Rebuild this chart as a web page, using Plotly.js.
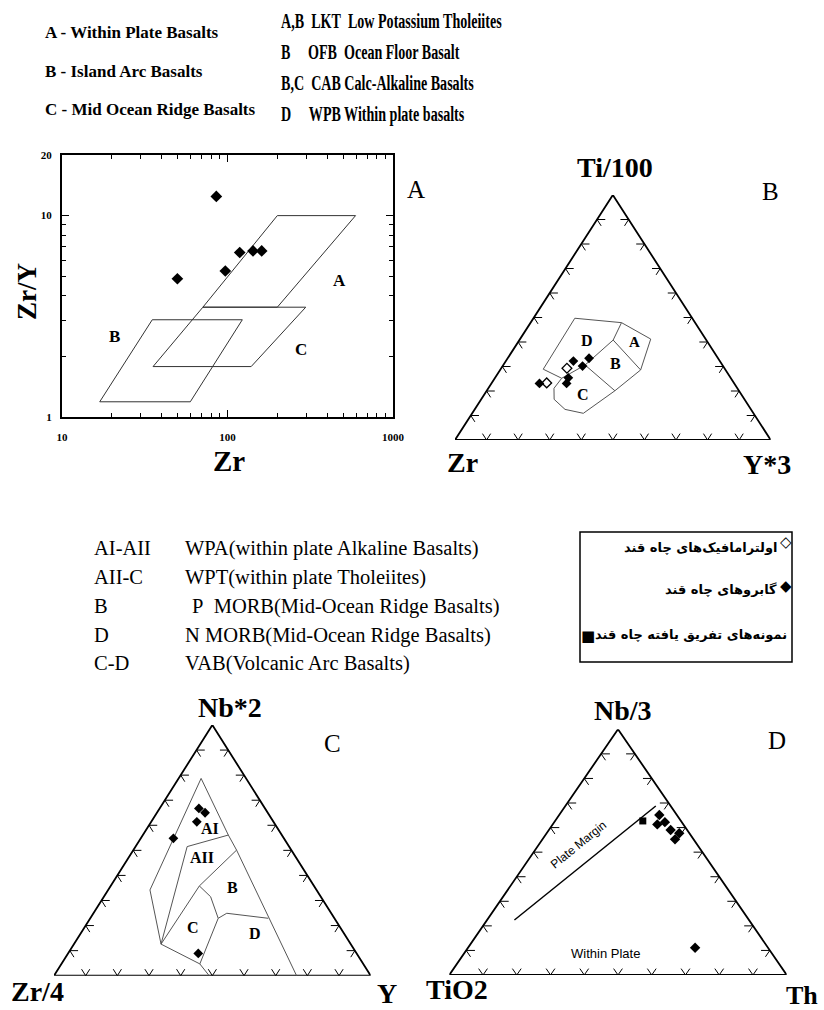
<!DOCTYPE html>
<html><head><meta charset="utf-8">
<script src="https://cdn.plot.ly/plotly-3.0.1.min.js"></script>
<style>body{margin:0;background:#fff}</style>
</head><body><div id="chart" style="width:824px;height:1010px"></div>
<script>
// ---------- Panel A : Zr/Y vs Zr (log-log) ----------
const aSampleZr  = [85.6, 49.8, 97.0, 118.5, 142.6, 160.9];
const aSampleZrY = [12.45, 4.86, 5.31, 6.56, 6.68, 6.68];
const aFieldA_Zr  = [71, 200, 594, 200, 71];
const aFieldA_ZrY = [3.51, 10, 10, 3.51, 3.51];
const aFieldB_Zr  = [16.9, 35.1, 122.9, 59.6, 16.9];
const aFieldB_ZrY = [1.19, 3.04, 3.04, 1.19, 1.19];
const aFieldC_Zr  = [35.5, 71, 297, 139, 35.5];
const aFieldC_ZrY = [1.78, 3.51, 3.51, 1.78, 1.78];
const aXTicks = [10, 100, 1000];
const aXMinor = [20,30,40,50,60,70,80,90,200,300,400,500,600,700,800,900];
const aYTicks = [1, 10, 20];
const aYMinor = [2,3,4,5,6,7,8,9];

// ---------- Panel B : Ti/100 - Zr - Y*3  ([top, left, right]) ----------
const bOutline = [[0.497,0.372,0.131],[0.479,0.233,0.288],[0.412,0.174,0.414],[0.286,0.269,0.445],
  [0.201,0.393,0.406],[0.109,0.539,0.352],[0.125,0.589,0.286],[0.166,0.603,0.231],[0.211,0.581,0.208],
  [0.252,0.536,0.212],[0.289,0.576,0.135],[0.497,0.372,0.131]];
const bLine1 = [[0.479,0.233,0.288],[0.408,0.295,0.297],[0.286,0.269,0.445]];
const bLine2 = [[0.408,0.295,0.297],[0.306,0.435,0.259],[0.201,0.393,0.406]];
const bLine3 = [[0.306,0.435,0.259],[0.252,0.536,0.212]];
const bGabbro = [[0.322,0.464,0.214],[0.334,0.409,0.258],[0.302,0.445,0.253],[0.254,0.514,0.232],[0.231,0.531,0.238],[0.231,0.617,0.152]];
const bUltramafic = [[0.293,0.499,0.208],[0.233,0.593,0.174]];

// ---------- Panel C : Nb*2 - Zr/4 - Y ----------
const cOutline = [[0,0.51,0.49],[0.047,0.516,0.437],[0.126,0.599,0.275],[0.342,0.526,0.132],[0.787,0.142,0.071],
  [0.561,0.169,0.270],[0.501,0.173,0.326],[0,0.234,0.766]];
const cLineAI  = [[0.561,0.169,0.270],[0.515,0.322,0.163],[0.126,0.599,0.275]];
const cLineAII = [[0.501,0.173,0.326],[0.358,0.362,0.280],[0.126,0.599,0.275]];
const cLineC   = [[0.358,0.362,0.280],[0.315,0.348,0.337],[0.229,0.367,0.404],[0.047,0.516,0.437]];
const cLineD   = [[0.229,0.367,0.404],[0.249,0.330,0.421],[0.229,0.209,0.562]];
const cGabbro = [[0.667,0.209,0.124],[0.650,0.198,0.152],[0.614,0.242,0.144],[0.548,0.349,0.103],[0.089,0.500,0.411]];

// ---------- Panel D : Nb/3 - TiO2 - Th ----------
const dMarginLine = [[0.224,0.695,0.081],[0.688,0.044,0.268]];
const dGabbro = [[0.651,0.052,0.297],[0.613,0.077,0.310],[0.622,0.050,0.328],[0.590,0.049,0.361],[0.577,0.030,0.393],[0.552,0.055,0.393],[0.111,0.216,0.673]];
const dDiff = [[0.627,0.113,0.260]];

const tickFractions = [0.1,0.2,0.3,0.4,0.5,0.6,0.7,0.8,0.9];

// ---------- helpers ----------
const W = 824, H = 1010;
const PX = x => x / W, PY = y => 1 - y / H;
const SERIF = "Liberation Serif, Times New Roman, serif";
function tern(t){ const s=t[0]+t[1]+t[2]; return [(t[2]+t[0]/2)/s, t[0]/s]; }
function path(list){
  const x=[], y=[];
  list.forEach((arr,i)=>{ if(i){x.push(null);y.push(null);} arr.forEach(v=>{const p=tern(v);x.push(p[0]);y.push(p[1]);}); });
  return {x,y};
}
function frame(xa, ya){
  const p=path([[[1,0,0],[0,1,0],[0,0,1],[1,0,0]]]);
  return {type:'scatter',mode:'lines',x:p.x,y:p.y,xaxis:xa,yaxis:ya,line:{color:'#000',width:1.8},hoverinfo:'skip',showlegend:false};
}
function ticks(xa, ya){
  const V=[[0.5,1],[0,0],[1,0]];
  const edges=[[1,2,0],[1,0,2],[0,2,1]];
  const d=0.026, x=[], y=[];
  edges.forEach(e=>{
    const A=V[e[0]],B=V[e[1]],C=V[e[2]];
    tickFractions.forEach(f=>{
      const px=A[0]+f*(B[0]-A[0]), py=A[1]+f*(B[1]-A[1]);
      x.push(px+d*(C[0]-A[0]),px,px+d*(C[0]-B[0]),null);
      y.push(py+d*(C[1]-A[1]),py,py+d*(C[1]-B[1]),null);
    });
  });
  return {type:'scatter',mode:'lines',x,y,xaxis:xa,yaxis:ya,line:{color:'#000',width:1},hoverinfo:'skip',showlegend:false};
}
function lines(list, xa, ya, color, w){
  const p=path(list);
  return {type:'scatter',mode:'lines',x:p.x,y:p.y,xaxis:xa,yaxis:ya,line:{color:color||'#555',width:w||1},hoverinfo:'skip',showlegend:false};
}
function pts(arr, xa, ya, symbol, size, name){
  const p=path([arr]);
  return {type:'scatter',mode:'markers',name,x:p.x,y:p.y,xaxis:xa,yaxis:ya,cliponaxis:false,
    marker:{symbol,size,color:'#000',line:{color:'#000',width:symbol.indexOf('open')>=0?1.3:0}},showlegend:false};
}

const traces = [];
[[aFieldA_Zr,aFieldA_ZrY],[aFieldB_Zr,aFieldB_ZrY],[aFieldC_Zr,aFieldC_ZrY]].forEach(f=>{
  traces.push({type:'scatter',mode:'lines',x:f[0],y:f[1],xaxis:'x',yaxis:'y',line:{color:'#333',width:1},hoverinfo:'skip',showlegend:false});
});
traces.push({type:'scatter',mode:'markers',x:aSampleZr,y:aSampleZrY,xaxis:'x',yaxis:'y',cliponaxis:false,
  marker:{symbol:'diamond',size:9,color:'#000'},showlegend:false});
traces.push(frame('x2','y2'), ticks('x2','y2'), lines([bOutline,bLine1,bLine2,bLine3],'x2','y2'));
traces.push(pts(bGabbro,'x2','y2','diamond',7.5,'gabbro'), pts(bUltramafic,'x2','y2','diamond-open',7.5,'ultramafic'));
traces.push(frame('x3','y3'), ticks('x3','y3'), lines([cOutline,cLineAI,cLineAII,cLineC,cLineD],'x3','y3'));
traces.push(pts(cGabbro,'x3','y3','diamond',7.5,'gabbro'));
traces.push(frame('x4','y4'), ticks('x4','y4'), lines([dMarginLine],'x4','y4','#000',1.5));
traces.push(pts(dGabbro,'x4','y4','diamond',8,'gabbro'), pts(dDiff,'x4','y4','square',7,'diff'));

const hid = {visible:false, range:[0,1], fixedrange:true};
const layout = {
  width:W, height:H, margin:{l:0,r:0,t:0,b:0}, paper_bgcolor:'#fff', plot_bgcolor:'rgba(0,0,0,0)', showlegend:false,
  xaxis:{domain:[PX(62),PX(393)], anchor:'y', type:'log', range:[1,3], tickmode:'array', tickvals:aXTicks, ticktext:aXTicks.map(String),
    ticks:'inside', ticklen:7, tickwidth:1, tickcolor:'#000', showline:true, linewidth:2, linecolor:'#000', mirror:'ticks',
    showgrid:false, zeroline:false, ticklabelstandoff:9, tickfont:{family:SERIF,size:11,weight:'bold',color:'#000'},
    minor:{tickmode:'array', tickvals:aXMinor, ticks:'inside', ticklen:4, tickcolor:'#000', showgrid:false}},
  yaxis:{domain:[PY(417),PY(155)], anchor:'x', type:'log', range:[0,Math.log10(20)], tickmode:'array', tickvals:aYTicks, ticktext:aYTicks.map(String),
    ticks:'inside', ticklen:7, tickwidth:1, tickcolor:'#000', showline:true, linewidth:2, linecolor:'#000', mirror:'ticks',
    showgrid:false, zeroline:false, ticklabelstandoff:6, tickfont:{family:SERIF,size:11,weight:'bold',color:'#000'},
    minor:{tickmode:'array', tickvals:aYMinor, ticks:'inside', ticklen:4, tickcolor:'#000', showgrid:false}},
  xaxis2:Object.assign({domain:[PX(455),PX(770.7)], anchor:'y2'},hid),
  yaxis2:Object.assign({domain:[PY(440),PY(195)], anchor:'x2'},hid),
  xaxis3:Object.assign({domain:[PX(54),PX(370.7)], anchor:'y3'},hid),
  yaxis3:Object.assign({domain:[PY(975.7),PY(725)], anchor:'x3'},hid),
  xaxis4:Object.assign({domain:[PX(449.3),PX(786.7)], anchor:'y4'},hid),
  yaxis4:Object.assign({domain:[PY(975),PY(729.3)], anchor:'x4'},hid),
  annotations:[], shapes:[]
};
function ann(text,x,y,size,opts){
  layout.annotations.push(Object.assign({text, xref:'paper', yref:'paper', x:PX(x), y:PY(y), showarrow:false,
    xanchor:'center', yanchor:'middle', font:{family:SERIF,size,color:'#000'}}, opts||{}));
  return layout.annotations.length-1;
}
function bold(text,x,y,size,extra){ return ann(text,x,y,size,Object.assign({font:{family:SERIF,size,color:'#000',weight:'bold'}},extra||{})); }

// top-left legend
bold('A - Within Plate Basalts',43,32,17,{xanchor:'left'});
bold('B - Island Arc Basalts',43,71,17,{xanchor:'left'});
bold('C - Mid Ocean Ridge Basalts',43,110,17,{xanchor:'left'});
// top-right legend (condensed bold serif; squeezed horizontally after drawing)
const narrowIdx = [];
[['A,B&nbsp;&nbsp;LKT&nbsp;&nbsp;Low Potassium Tholeiites',20],['B&nbsp;&nbsp;&nbsp;&nbsp;&nbsp;OFB&nbsp;&nbsp;Ocean Floor Basalt',51],
 ['B,C&nbsp;&nbsp;CAB Calc-Alkaline Basalts',83],['D&nbsp;&nbsp;&nbsp;&nbsp;&nbsp;WPB Within plate basalts',114]].forEach(r=>{
  narrowIdx.push(bold(r[0],279,r[1],22,{xanchor:'left'}));
});
// panel A labels
bold('Zr',229,461,29); bold('Zr/Y',27,292,27,{textangle:-90});
ann('A',416,190,25);
bold('A',339,280,17); bold('B',114,336,17); bold('C',301,349,17);
// panel B labels
bold('Ti/100',615,167,28); bold('Zr',462,463,28); bold('Y*3',767,465,28);
ann('B',770,192,25);
bold('D',586.7,340,16); bold('A',634,342,15); bold('B',615,363,16); bold('C',583,394,16);
// middle legend
[['AI-AII','WPA(within plate Alkaline Basalts)',548,183],['AII-C','WPT(within plate Tholeiites)',577,183],
 ['B','P&nbsp;&nbsp;MORB(Mid-Ocean Ridge Basalts)',606,190],['D','N MORB(Mid-Ocean Ridge Basalts)',635,183],
 ['C-D','VAB(Volcanic Arc Basalts)',663,183]].forEach(r=>{
  ann(r[0],92,r[2],20.5,{xanchor:'left'}); ann(r[1],r[3],r[2],20.5,{xanchor:'left'});
});
// Persian legend box
layout.shapes.push({type:'rect',xref:'paper',yref:'paper',x0:PX(580),x1:PX(792),y0:PY(662),y1:PY(532),line:{color:'#000',width:1.5}});
const FA = "DejaVu Sans, Noto Sans, sans-serif";
const faFont = {family:FA,size:13,color:'#000',weight:'bold'};
ann('اولترامافیک‌های چاه قند',779,547,13,{xanchor:'right',font:faFont});
ann('◇',786,542,15,{font:{family:FA,size:15,color:'#000'}});
ann('گابروهای چاه قند',779,589,13,{xanchor:'right',font:faFont});
ann('◆',786,586,15,{font:{family:FA,size:15,color:'#000'}});
ann('نمونه‌های تفریق یافته چاه قند',789,634,13,{xanchor:'right',font:faFont});
ann('■',588,636,15,{font:{family:FA,size:15,color:'#000'}});
// panel C labels
bold('Nb*2',230,707,28); bold('Zr/4',37,991,28); bold('Y',387,993,28);
ann('C',332,743,25);
bold('AI',210,828,16); bold('AII',202,857,16); bold('B',232,887,16); bold('C',193,927,16); bold('D',255,933,16);
// panel D labels
bold('Nb/3',623,710,28); bold('TiO2',457,989,28); bold('Th',802,995,26);
ann('D',777,740,25);
const SANS = "Liberation Sans, Arial, sans-serif";
ann('Plate Margin',578,845,12,{textangle:-39,font:{family:SANS,size:12,color:'#000'}});
ann('Within Plate',605,953,13,{font:{family:SANS,size:13,color:'#000'}});

Plotly.newPlot('chart', traces, layout, {staticPlot:true, displayModeBar:false}).then(gd=>{
  // squeeze the condensed legend rows horizontally (reference uses a condensed face)
  const first = gd.querySelector('g.annotation[data-index="'+narrowIdx[0]+'"] text');
  if(!first) return;
  const s = 221 / first.getBBox().width;
  narrowIdx.forEach(i=>{
    const t = gd.querySelector('g.annotation[data-index="'+i+'"] text');
    if(!t) return;
    const bb = t.getBBox(), ex = t.getAttribute('transform')||'';
    t.setAttribute('transform', ex+' translate('+(bb.x*(1-s))+',0) scale('+s+',1)');
  });
});
</script></body></html>
